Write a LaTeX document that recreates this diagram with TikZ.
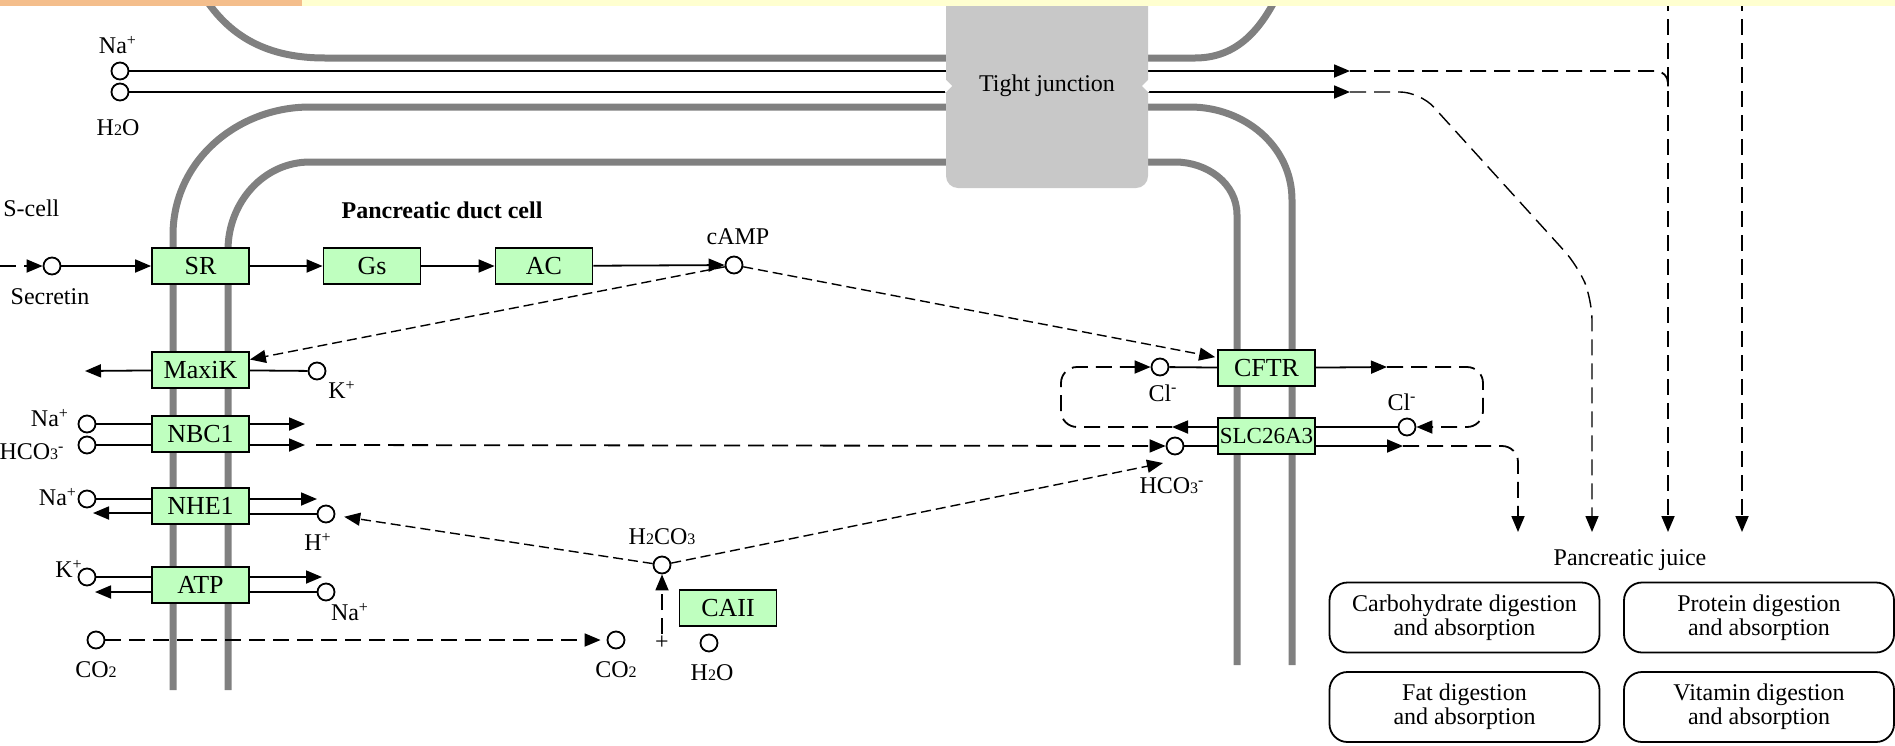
\documentclass[tikz,border=0pt]{standalone}
\usepackage{fontspec}
\setmainfont{Liberation Serif}
\usetikzlibrary{arrows.meta, positioning, calc}
\definecolor{membgray}{RGB}{128,128,128}
\definecolor{tjgray}{RGB}{200,200,200}
\definecolor{genegreen}{RGB}{191,255,191}
\definecolor{stripeorange}{RGB}{244,190,140}
\definecolor{stripeyellow}{RGB}{255,255,208}
\newcommand{\lowdig}[1]{{\fontsize{8}{8}\selectfont #1}}
\newcommand{\chg}[1]{\textsuperscript{#1}}
\tikzset{
  gene/.style={draw, fill=genegreen, line width=0.9pt, minimum width=48.5pt, minimum height=18pt, inner sep=0pt, font=\fontsize{13}{14}\selectfont},
  cpd/.style={circle, draw, fill=white, line width=0.9pt, minimum size=8.5pt, inner sep=0pt},
  lbl/.style={inner sep=0pt, font=\fontsize{12}{13}\selectfont},
  pathway/.style={draw, rounded corners=9pt, line width=0.9pt, minimum width=135pt, minimum height=35pt, align=center, inner sep=0pt, font=\fontsize{12}{12}\selectfont},
  memb/.style={draw=membgray, line width=3.5pt},
  link/.style={line width=0.9pt},
  flow/.style={link, -{Triangle[length=8pt, width=6.5pt]}},
  dashlink/.style={link, dash pattern=on 8pt off 4pt},
  dashflow/.style={flow, dash pattern=on 8pt off 4pt},
  finedash/.style={line width=0.7pt, dash pattern=on 5pt off 2.5pt, -{Triangle[length=8pt, width=6.5pt]}},
}
\begin{document}
\begin{tikzpicture}[x=0.5pt, y=-0.5pt]
\useasboundingbox (0,0) rectangle (1895,745);

% membranes
\draw[memb] (200,-10) to[out=-60,in=180] (325,58) -- (946,58);
\draw[memb] (1148,58) -- (1195,58) to[out=0,in=-115] (1280,-10);
\draw[memb] (946,107) -- (310,107) to[out=180,in=90] (173,235) -- (173,690);
\draw[memb] (1148,107) -- (1190,107) to[out=0,in=90] (1292,200) -- (1292,665);
\draw[memb] (946,162) -- (310,162) to[out=180,in=90] (228,250) -- (228,690);
\draw[memb] (1148,162) -- (1175,162) to[out=0,in=90] (1237,215) -- (1237,665);

% genes
\node[gene] (sr) at (200.5,266) {SR};
\node[gene] (gs) at (372,266) {Gs};
\node[gene] (ac) at (544,266) {AC};
\node[gene] (maxik) at (200.5,370) {MaxiK};
\node[gene] (nbc) at (200.5,434) {NBC1};
\node[gene] (nhe) at (200.5,506) {NHE1};
\node[gene] (atp) at (200.5,585) {ATP};
\node[gene] (caii) at (728,608) {CAII};
\node[gene] (cftr) at (1266.5,368) {CFTR};
\node[gene, font=\fontsize{11.5}{12}\selectfont] (slc) at (1266.5,436) {SLC26A3};

% compounds
\node[cpd] (na1) at (120,71) {};
\node[cpd] (h2o1) at (120,92) {};
\node[cpd] (secretin) at (52,266) {};
\node[cpd] (camp) at (734,265) {};
\node[cpd] (k1) at (317,371) {};
\node[cpd] (na2) at (87,424) {};
\node[cpd] (hco3a) at (87,445) {};
\node[cpd] (na3) at (87,499) {};
\node[cpd] (hplus) at (326,514) {};
\node[cpd] (k2) at (87,577) {};
\node[cpd] (na4) at (326,592) {};
\node[cpd] (co2a) at (96,640) {};
\node[cpd] (co2b) at (616,640) {};
\node[cpd] (h2co3) at (662,565) {};
\node[cpd] (h2o2) at (709,643) {};
\node[cpd] (cl1) at (1160,367) {};
\node[cpd] (hco3b) at (1175,446) {};
\node[cpd] (cl2) at (1407,427) {};

% labels
\node[lbl, anchor=west] (scell) at (3,208) {S-cell};
\node[lbl, font=\fontsize{12}{13}\selectfont\bfseries] (duct) at (442,210) {Pancreatic duct cell};
\node[lbl] (secretinlbl) at (50,297) {Secretin};
\node[lbl] (na1lbl) at (118,45) {Na\chg{+}};
\node[lbl] (h2o1lbl) at (118,128) {H\lowdig{2}O};
\node[lbl] (camplbl) at (738,237) {cAMP};
\node[lbl] (k1lbl) at (342,390) {K\chg{+}};
\node[lbl] (na2lbl) at (50,418) {Na\chg{+}};
\node[lbl] (hco3albl) at (32,452) {HCO\lowdig{3}\chg{-}};
\node[lbl] (na3lbl) at (58,497) {Na\chg{+}};
\node[lbl] (hpluslbl) at (318,542) {H\chg{+}};
\node[lbl] (k2lbl) at (69,569) {K\chg{+}};
\node[lbl] (na4lbl) at (350,612) {Na\chg{+}};
\node[lbl] (co2albl) at (96,670) {CO\lowdig{2}};
\node[lbl] (co2blbl) at (616,670) {CO\lowdig{2}};
\node[lbl] (h2co3lbl) at (662,537) {H\lowdig{2}CO\lowdig{3}};
\node[lbl] (plus) at (662,643) {+};
\node[lbl] (h2o2lbl) at (712,673) {H\lowdig{2}O};
\node[lbl] (cl1lbl) at (1163,393) {Cl\chg{-}};
\node[lbl] (cl2lbl) at (1402,402) {Cl\chg{-}};
\node[lbl] (hco3blbl) at (1172,486) {HCO\lowdig{3}\chg{-}};
\node[lbl] (juice) at (1630,560) {Pancreatic juice};

% pathway maps
\node[pathway] (carb) at (1464.5,617.5) {Carbohydrate digestion\\and absorption};
\node[pathway] (prot) at (1759,617.5) {Protein digestion\\and absorption};
\node[pathway] (fat) at (1464.5,707) {Fat digestion\\and absorption};
\node[pathway] (vit) at (1759,707) {Vitamin digestion\\and absorption};

% free ends
\coordinate (secIn) at (0,266);
\coordinate (naTip) at (1350,71);
\coordinate (h2oTip) at (1350,92);
\coordinate (maxOut) at (85,371);
\coordinate (nbcOut1) at (305,424);
\coordinate (nbcOut2) at (305,445);
\coordinate (nbcDash) at (316,445);
\coordinate (nheIn) at (93,513);
\coordinate (nheOut) at (317,499);
\coordinate (atpIn) at (95,592);
\coordinate (atpOut) at (322,577);
\coordinate (plusBase) at (662,634);
\coordinate (hco3Tip) at (1163,463);
\coordinate (slcL) at (1172,427);
\coordinate (cftrOut) at (1387,367);
\coordinate (slcOut) at (1403,446);
\coordinate (j1) at (1518,532);
\coordinate (j2) at (1592,532);
\coordinate (j3) at (1668,532);
\coordinate (j4) at (1742,532);
\coordinate (t3) at (1668,-5);
\coordinate (t4) at (1742,-5);

% secretin signalling
\draw[dashflow] (secIn) -- (secretin);
\draw[flow] (secretin) -- (sr);
\draw[flow] (sr) -- (gs);
\draw[flow] (gs) -- (ac);
\draw[flow] (ac) -- (camp);
\draw[finedash] (camp) -- (maxik.12);
\draw[finedash, shorten >=1pt] (camp) -- (cftr.168);

% basolateral transporters
\draw[flow] (maxik) -- (maxOut);
\draw[link] (k1) -- (maxik);
\draw[link] (na2) -- (na2 -| nbc.west);
\draw[link] (hco3a) -- (hco3a -| nbc.west);
\draw[flow] (na2 -| nbc.east) -- (nbcOut1);
\draw[flow] (hco3a -| nbc.east) -- (nbcOut2);
\draw[link] (na3) -- (na3 -| nhe.west);
\draw[flow] (nheIn -| nhe.west) -- (nheIn);
\draw[flow] (nheOut -| nhe.east) -- (nheOut);
\draw[link] (hplus -| nhe.east) -- (hplus);
\draw[link] (k2) -- (k2 -| atp.west);
\draw[flow] (atpIn -| atp.west) -- (atpIn);
\draw[flow] (atpOut -| atp.east) -- (atpOut);
\draw[link] (na4 -| atp.east) -- (na4);

% carbonic acid
\draw[dashflow, shorten >=3pt] (co2a) -- (co2b);
\draw[dashflow] (plusBase) -- (h2co3);
\draw[finedash, shorten >=4.5pt] (h2co3) -- (hplus);
\draw[finedash] (h2co3) -- (hco3Tip);
\draw[dashflow] (nbcDash) -- (hco3b);

% apical transporters
\draw[link] (cl1) -- (cftr);
\draw[flow] (cftr) -- (cftrOut);
\draw[dashflow, rounded corners=8pt] (cftrOut) -- (1483,367) -- (1483,427) -- (cl2);
\draw[link] (cl2) -- (cl2 -| slc.east);
\draw[flow] (slcL -| slc.west) -- (slcL);
\draw[dashflow, rounded corners=8pt] (slcL) -- (1061,427) -- (1061,367) -- (cl1);
\draw[link] (hco3b) -- (hco3b -| slc.west);
\draw[flow] (slcOut -| slc.east) -- (slcOut);
\draw[dashflow, rounded corners=8pt] (slcOut) -- (1518,446) -- (j1);

% paracellular route
\draw[flow] (na1) -- (naTip);
\draw[flow] (h2o1) -- (h2oTip);
\draw[dashlink, rounded corners=6pt] (naTip) -- (1668,71) -- (1668,95);
\draw[dashflow, line width=0.7pt, rounded corners=10pt] (h2oTip) -- (1420,92) -- (1578,266) -- (1592,300) -- (j2);
\draw[dashflow] (t3) -- (j3);
\draw[dashflow] (t4) -- (j4);

% tight junction
\fill[tjgray, rounded corners=6pt] (946,-30) rectangle (1148,188);
\fill[white] (945,79) -- (952,86) -- (945,93) -- cycle;
\fill[white] (1149,79) -- (1142,86) -- (1149,93) -- cycle;
\node[lbl] (tj) at (1047,86) {Tight junction};

\fill[stripeorange] (0,-10) rectangle (302,6);
\fill[stripeyellow] (302,-10) rectangle (1895,6);
\end{tikzpicture}
\end{document}
